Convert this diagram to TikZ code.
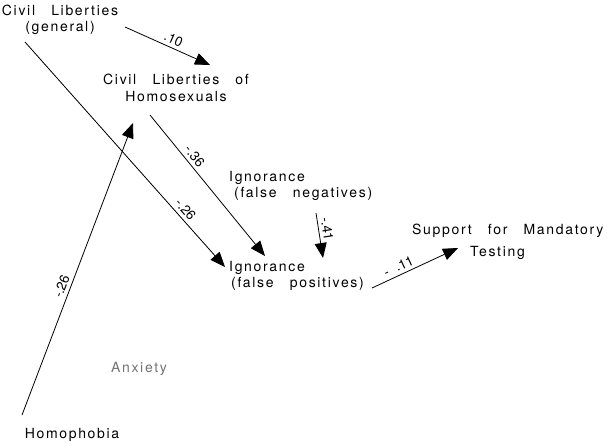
\documentclass[tikz,border=0pt]{standalone}
\usepackage{fontspec}
\setmainfont{TeX Gyre Heros}[LetterSpace=12,WordSpace=2.9]
\newfontfamily\coeffont{TeX Gyre Heros}
\usetikzlibrary{arrows.meta,calc}
\begin{document}
\begin{tikzpicture}[x=1pt,y=-1pt,
  lbl/.style={inner sep=0pt,font=\fontsize{14}{16.5}\selectfont},
  arr/.style={line width=0.8pt,-{Triangle[length=15pt,width=12pt]}},
  coef/.style={sloped,above,inner sep=3.5pt,font=\coeffont\fontsize{13.5}{15}\selectfont}]
\useasboundingbox (0,0) rectangle (610,445);
\node[lbl,align=center] (clg) at (60,20) {Civil Liberties\\(general)};
\node[lbl,align=center] (clh) at (176,88) {Civil Liberties of\\Homosexuals};
\node[lbl,align=left,anchor=north west] (ifn) at (229,171) {Ignorance\\\hspace*{5pt}(false negatives)};
\node[lbl,align=left,anchor=north west] (ifp) at (229,261) {Ignorance\\\hspace*{2pt}(false positives)};
\node[lbl,align=left,anchor=north west] (smt) at (412,224) {Support for Mandatory\\[5pt]\hspace*{58pt}Testing};
\node[lbl,text=black!55] (anx) at (139,369) {Anxiety};
\node[lbl] (hom) at (72,435) {Homophobia};
\draw[arr] ($(clg)+(65,7)$) -- node[coef,pos=0.53] {.10} ($(clh)+(34,-23)$);
\draw[arr] ($(clg)+(-35,22)$) -- node[coef,pos=0.77] {-.26} ($(ifp.north west)+(-4,6)$);
\draw[arr] ($(clh)+(-26,27)$) -- node[coef,pos=0.33] {-.36} ($(ifp.north west)+(36,-5)$);
\draw[arr] ($(hom)+(-50,-20)$) -- node[coef,pos=0.43] {-.26} ($(clh)+(-43,35)$);
\draw[arr] ($(ifn.north west)+(87,42)$) -- node[coef,pos=0.38] {-.41} ($(ifp.north west)+(94,-3)$);
\draw[arr] ($(ifp.north west)+(143,27)$) -- node[coef,pos=0.35] {-\hspace{8pt}.11} ($(smt.north west)+(46,24)$);
\end{tikzpicture}
\end{document}
